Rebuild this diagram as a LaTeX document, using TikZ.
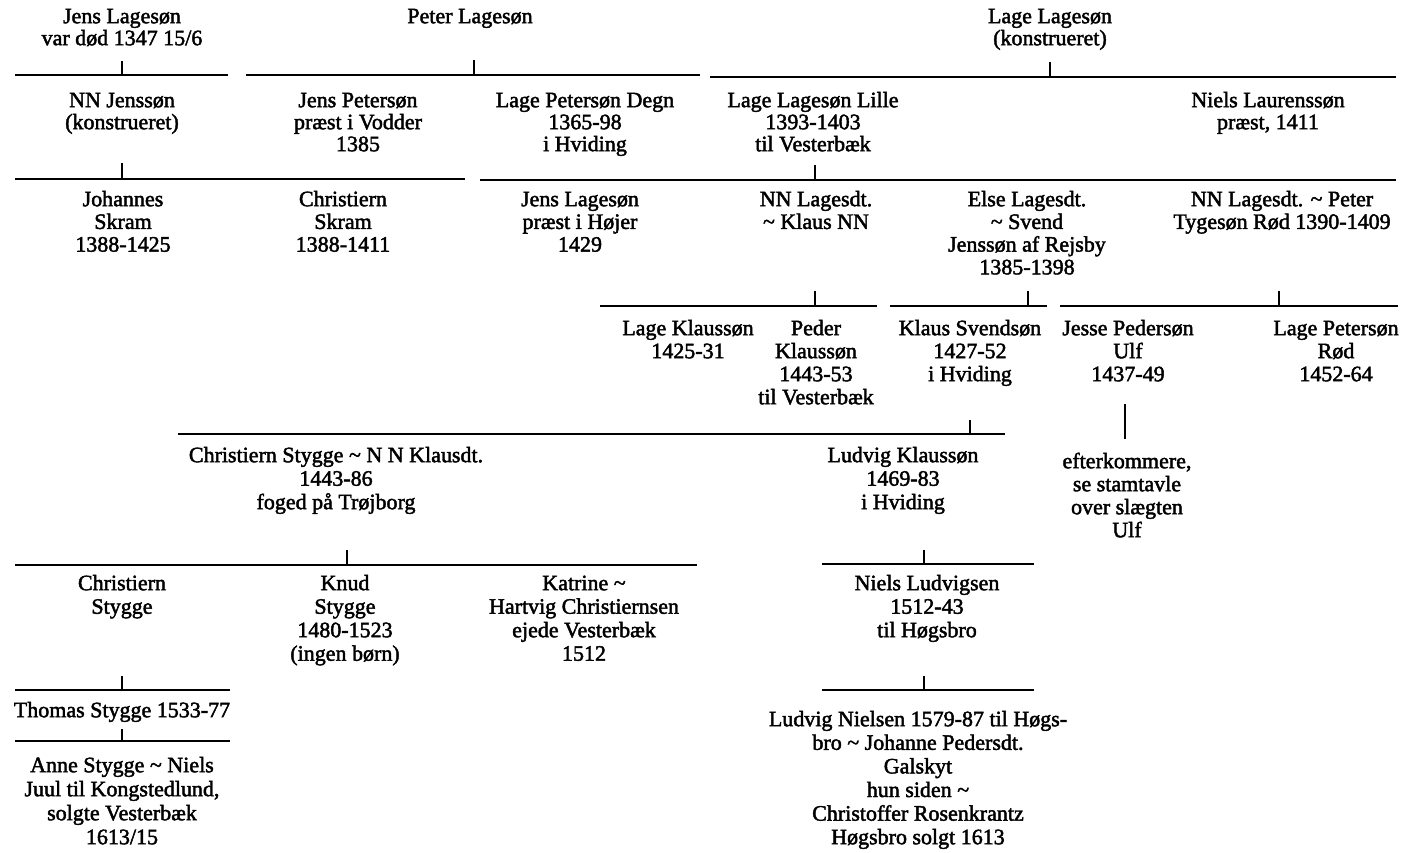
\documentclass[tikz,border=0pt]{standalone}
\usepackage{fontspec}
\setmainfont{Liberation Serif}[FakeBold=2]
\newcommand\swung{\textasciitilde}
\newcommand\fs{\rule{0pt}{17pt}}
\begin{document}
\begin{tikzpicture}[x=1pt,y=-1pt,
  pers/.style={anchor=north, align=center, inner sep=0pt,
    font=\fontsize{22}{#1}\selectfont},
  pers/.default=23,
  bar/.style={line width=1.8pt},
  tick/.style={line width=1.2pt}]
\useasboundingbox (0,0) rectangle (1404,852);

% ---------- row 1
\node[pers=22] (jl1) at (122,6) {\fs Jens Lagesøn\\var død 1347 15/6};
\node[pers=22] (pl)  at (470,6) {\fs Peter Lagesøn};
\node[pers=22] (ll)  at (1050,6) {\fs Lage Lagesøn\\(konstrueret)};

% ---------- row 2
\node[pers=22] (nnj) at (122,90) {\fs NN Jenssøn\\(konstrueret)};
\node[pers=22] (jp)  at (358,90) {\fs Jens Petersøn\\præst i Vodder\\1385};
\node[pers=22] (lpd) at (585,90) {\fs Lage Petersøn Degn\\1365-98\\i Hviding};
\node[pers=22] (lll) at (813,90) {\fs Lage Lagesøn Lille\\1393-1403\\til Vesterbæk};
\node[pers=22] (nl)  at (1268,90) {\fs Niels Laurenssøn\\præst, 1411};

% ---------- row 3
\node[pers=22.7] (js)  at (123,189) {\fs Johannes\\Skram\\1388-1425};
\node[pers=22.7] (cs)  at (343,189) {\fs Christiern\\Skram\\1388-1411};
\node[pers=22.7] (jl3) at (580,189) {\fs Jens Lagesøn\\præst i Højer\\1429};
\node[pers=22.7] (nnl) at (816,189) {\fs NN Lagesdt.\\\swung{} Klaus NN};
\node[pers=22.7] (el)  at (1027,189) {\fs Else Lagesdt.\\\swung{} Svend\\Jenssøn af Rejsby\\1385-1398};
\node[pers=22.7] (nnp) at (1282,189) {\fs NN Lagesdt. \swung{} Peter\\Tygesøn Rød 1390-1409};

% ---------- row 4
\node[pers] (lk)  at (688,318) {\fs Lage Klaussøn\\1425-31};
\node[pers] (pk)  at (816,318) {\fs Peder\\Klaussøn\\1443-53\\til Vesterbæk};
\node[pers] (ks)  at (970,318) {\fs Klaus Svendsøn\\1427-52\\i Hviding};
\node[pers] (jpu) at (1128,318) {\fs Jesse Pedersøn\\Ulf\\1437-49};
\node[pers] (lpr) at (1336,318) {\fs Lage Petersøn\\Rød\\1452-64};
\node[pers] (eft) at (1127,451) {\fs efterkommere,\\se stamtavle\\over slægten\\Ulf};

% ---------- row 5
\node[pers=23.5] (cst) at (336,445) {\fs Christiern Stygge \swung{} N N Klausdt.\\1443-86\\foged på Trøjborg};
\node[pers=23.5] (lkl) at (903,445) {\fs Ludvig Klaussøn\\1469-83\\i Hviding};

% ---------- row 6
\node[pers=23.5] (cs2) at (122,573) {\fs Christiern\\Stygge};
\node[pers=23.5] (kn)  at (345,573) {\fs Knud\\Stygge\\1480-1523\\(ingen børn)};
\node[pers=23.5] (kat) at (584,573) {\fs Katrine \swung\\Hartvig Christiernsen\\ejede Vesterbæk\\1512};
\node[pers=23.5] (nlu) at (927,573) {\fs Niels Ludvigsen\\1512-43\\til Høgsbro};

% ---------- row 7
\node[pers] (ts)  at (122,700) {\fs Thomas Stygge 1533-77};
\node[pers=24] (as)  at (122,755) {\fs Anne Stygge \swung{} Niels\\Juul til Kongstedlund,\\solgte Vesterbæk\\1613/15};
\node[pers=23.6] (lni) at (918,709) {\fs Ludvig Nielsen 1579-87 til Høgs-\\bro \swung{} Johanne Pedersdt.\\Galskyt\\hun siden \swung\\Christoffer Rosenkrantz\\Høgsbro solgt 1613};

% ---------- bars (named end points)
\coordinate (aL) at (15,75);   \coordinate (aR) at (228,75);
\coordinate (bL) at (246,75);  \coordinate (bR) at (700,75);
\coordinate (cL) at (710,77);  \coordinate (cR) at (1396,77);
\coordinate (dL) at (15,179);  \coordinate (dR) at (465,179);
\coordinate (eL) at (480,180); \coordinate (eR) at (1396,180);
\coordinate (fL) at (600,306); \coordinate (fR) at (877,306);
\coordinate (gL) at (890,306); \coordinate (gR) at (1047,306);
\coordinate (hL) at (1060,306);\coordinate (hR) at (1398,306);
\coordinate (iL) at (178,434); \coordinate (iR) at (1005,434);
\coordinate (jL) at (15,565);  \coordinate (jR) at (697,565);
\coordinate (kL) at (822,564); \coordinate (kR) at (1034,564);
\coordinate (lL) at (15,690);  \coordinate (lR) at (230,690);
\coordinate (mL) at (822,690); \coordinate (mR) at (1034,690);
\coordinate (nL) at (15,741);  \coordinate (nR) at (230,741);

\foreach \b in {a,b,c,d,e,f,g,h,i,j,k,l,m,n}
  \draw[bar] (\b L) -- (\b R);

% ---------- ticks (tops of the short drops)
\coordinate (ta) at (122,61);
\coordinate (tb) at (474,60);
\coordinate (tc) at (1050,62);
\coordinate (td) at (122,163);
\coordinate (te) at (815,165);
\coordinate (tf) at (815,291);
\coordinate (tg) at (1028,291);
\coordinate (th) at (1279,291);
\coordinate (ti) at (970,420);
\coordinate (tj) at (347,550);
\coordinate (tk) at (924,550);
\coordinate (tl) at (122,676);
\coordinate (tm) at (924,676);
\coordinate (tn) at (122,729);

\foreach \t in {a,b,c,d,e,f,g,h,i,j,k,l,m,n}
  \draw[tick] (t\t) -- (t\t |- \t L);

% ---------- Jesse Pedersøn to his descendants note
\coordinate (jv1) at (1125,404);
\coordinate (jv2) at (1125,439);
\draw[tick] (jv1) -- (jv2);
\end{tikzpicture}
\end{document}
